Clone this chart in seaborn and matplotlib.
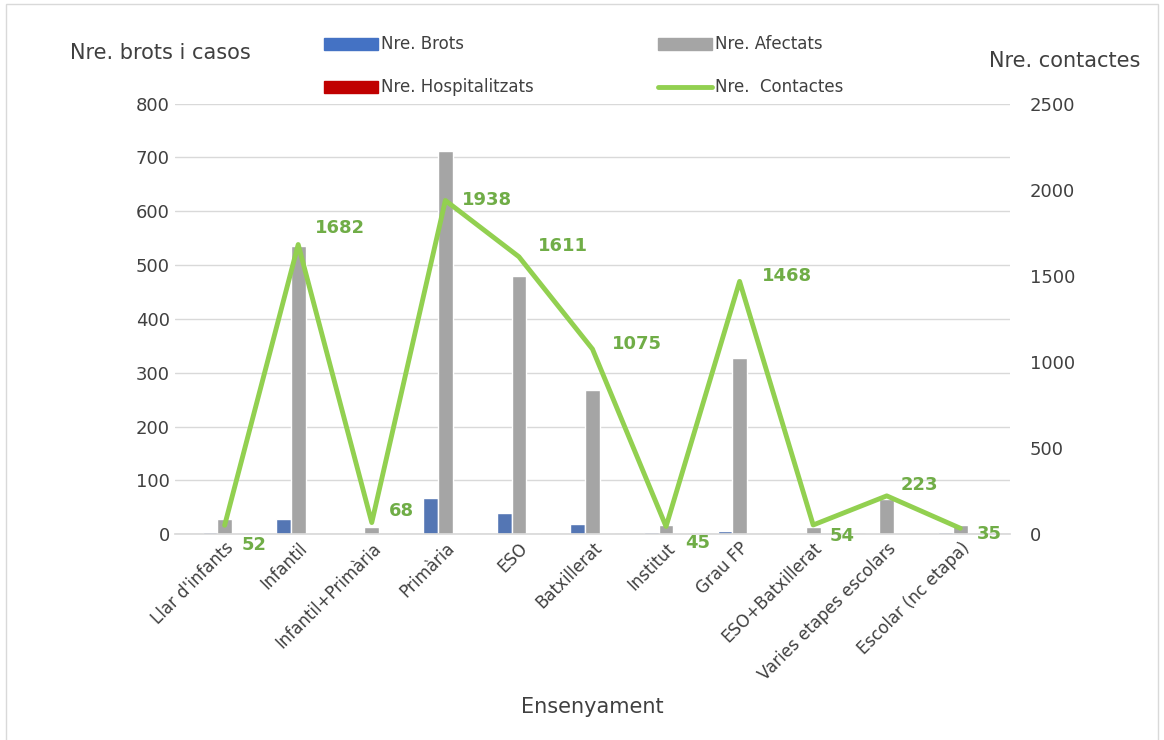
import pandas as pd
import matplotlib.pyplot as plt
import seaborn as sns
from matplotlib.patches import Rectangle

sns.set_theme(style="white")
plt.rcParams['font.family'] = ['DejaVu Sans']

categories = ["Llar d'infants", "Infantil", "Infantil+Primària", "Primària", "ESO",
              "Batxillerat", "Institut", "Grau FP", "ESO+Batxillerat",
              "Varies etapes escolars", "Escolar (nc etapa)"]
brots = [5, 28, 1, 67, 40, 19, 5, 7, 1, 2, 4]
afectats = [28, 535, 13, 712, 479, 268, 18, 327, 13, 65, 17]
hospitalitzats = [0, 0, 0, 0, 0, 0, 0, 0, 0, 0, 0]
contactes = [52, 1682, 68, 1938, 1611, 1075, 45, 1468, 54, 223, 35]

df = pd.DataFrame({"cat": categories * 3,
                   "serie": ["Nre. Brots"] * 11 + ["Nre. Afectats"] * 11 + ["Nre. Hospitalitzats"] * 11,
                   "val": brots + afectats + hospitalitzats})

fig = plt.figure(figsize=(11.64, 7.4), dpi=100)
ax = fig.add_axes([0.15, 0.278, 0.718, 0.582])
sns.barplot(data=df, x="cat", y="val", hue="serie", ax=ax, width=0.6,
            palette=["#4472c4", "#a5a5a5", "#c00000"], legend=False)
ax.set_ylim(0, 800)
ax.set_yticks(range(0, 801, 100))
ax.yaxis.grid(True, color="#d9d9d9", lw=1)
ax.set_axisbelow(True)
ax.set_xlabel("Ensenyament", fontsize=15, color="#404040", labelpad=10)
ax.set_ylabel("")
ax.set_xticks(range(11))
ax.set_xticklabels(categories, rotation=45, ha="right", rotation_mode="anchor", fontsize=12, color="#404040")
ax.tick_params(axis="y", labelsize=13, colors="#404040", length=0)
ax.tick_params(axis="x", length=0)
for s in ax.spines.values():
    s.set_visible(False)
ax.spines["bottom"].set_visible(True)
ax.spines["bottom"].set_color("#d9d9d9")

ax2 = ax.twinx()
sns.lineplot(x=list(range(11)), y=contactes, ax=ax2, color="#92d050", lw=3.5)
ax2.set_ylim(0, 2500)
ax2.set_yticks(range(0, 2501, 500))
ax2.tick_params(axis="y", labelsize=13, colors="#404040", length=0, pad=14)
for s in ax2.spines.values():
    s.set_visible(False)
ax.set_xlim(-0.68, 10.68)

offsets = [(12, -14), (12, 12), (12, 8), (12, 0), (14, 8), (14, 4), (14, -12), (16, 4), (12, -8), (10, 8), (12, -4)]
for i, (v, off) in enumerate(zip(contactes, offsets)):
    ax2.annotate(str(v), (i, v), xytext=off, textcoords="offset points",
                 color="#70ad47", fontsize=13, fontweight="bold", va="center", ha="left")

fig.text(0.06, 0.92, "Nre. brots i casos", fontsize=15, color="#404040")
fig.text(0.85, 0.91, "Nre. contactes", fontsize=15, color="#404040")

# legend
items = [("Nre. Brots", 0.278, 0.94, "bar", "#4472c4"), ("Nre. Afectats", 0.565, 0.94, "bar", "#a5a5a5"),
         ("Nre. Hospitalitzats", 0.278, 0.883, "bar", "#c00000"), ("Nre.  Contactes", 0.565, 0.883, "line", "#92d050")]
for lab, x, y, kind, c in items:
    if kind == "bar":
        fig.patches.append(Rectangle((x, y - 0.008), 0.047, 0.016, color=c, transform=fig.transFigure))
    else:
        fig.add_artist(plt.Line2D([x, x + 0.047], [y, y], color=c, lw=3.5, transform=fig.transFigure))
    fig.text(x + 0.049, y, lab, fontsize=12, color="#404040", va="center")

fig.patches.append(Rectangle((0.005, -0.1), 0.99, 1.095, fill=False, ec="#d9d9d9", lw=1, transform=fig.transFigure))
fig.savefig("out.png", dpi=100)
